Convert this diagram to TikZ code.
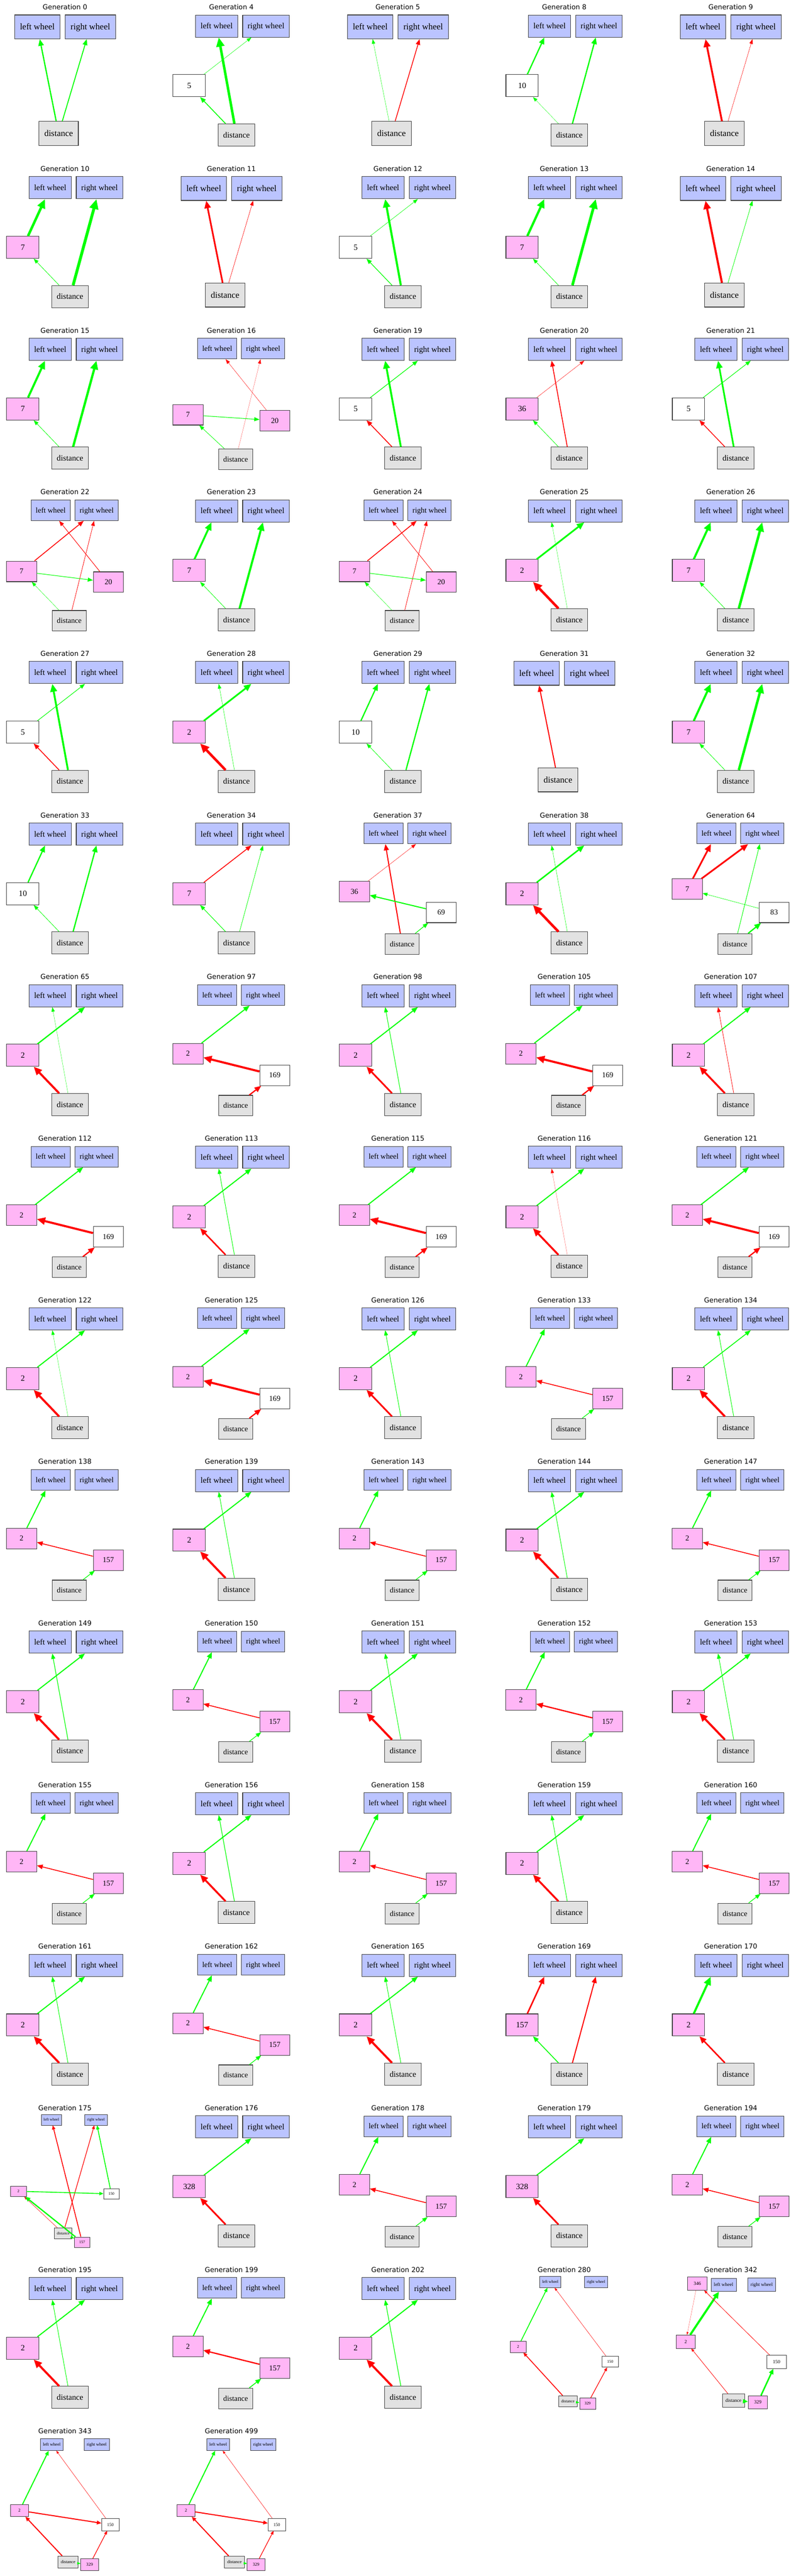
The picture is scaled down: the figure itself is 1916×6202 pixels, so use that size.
\documentclass[tikz,border=0pt]{standalone}
\usepackage{fontspec}
\setmainfont{Liberation Serif}
\newfontfamily\genfont{DejaVu Sans}
\usetikzlibrary{arrows.meta}

\definecolor{wheelblue}{RGB}{187,196,255}
\definecolor{hidpink}{RGB}{255,182,246}
\definecolor{sensorgray}{RGB}{226,226,226}
\definecolor{posgreen}{RGB}{0,255,0}
\definecolor{negred}{RGB}{255,0,0}

\tikzset{
  gentitle/.style={font=\genfont\fontsize{16.4pt}{19.7pt}\selectfont, inner sep=0pt},
  neuron/.style={rectangle, draw=black!75, line width=\nbw pt,
    minimum width=78pt*\nsc, minimum height=53.3pt*\nsc,
    inner xsep=12pt*\nsc, inner ysep=0pt,
    text height=\fth pt, text depth=\ftd pt,
    font=\fontsize{\fsz pt}{\fsz pt}\selectfont},
  wheel/.style={neuron, fill=wheelblue},
  sensor/.style={neuron, fill=sensorgray},
  hidden/.style={neuron, fill=#1},
  hidden/.default=white,
  link/.style={-{Triangle[length=10pt 2,width=7pt 2]}},
  excit/.style={link, draw=posgreen, line width=#1pt},
  inhib/.style={link, draw=negred, line width=#1pt}
}

% title of one panel; also sets the size of that panel's neurons
\newcommand\gentitle[4]{%
  \pgfmathsetmacro\nsc{#4}%
  \pgfmathsetmacro\fsz{19.5*#4}%
  \pgfmathsetmacro\nbw{1.4*#4}%
  \pgfmathsetmacro\fth{0.75*\fsz}%
  \pgfmathsetmacro\ftd{0.1*\fsz}%
  \coordinate (t#3) at ({156.4+400.7*#1},{17.4+389.07*#2});
  \node[gentitle] at (t#3) {Generation #3};
}

% col, row, generation: only the three fixed neurons
\newcommand\netA[3]{%
  \gentitle{#1}{#2}{#3}{1.08}
  \begin{scope}[shift={(t#3)}]
    \node[wheel] (lw#3) at (-66.5,47.3) {left wheel};
    \node[wheel] (rw#3) at (61.1,47.3) {right wheel};
    \node[sensor] (d#3) at (-15.2,303.9) {distance};
  \end{scope}
}

% col, row, generation, hidden label, hidden fill
\newcommand\netB[5]{%
  \gentitle{#1}{#2}{#3}{1}
  \begin{scope}[shift={(t#3)}]
    \node[wheel] (lw#3) at (-35.4,45.5) {left wheel};
    \node[wheel] (rw#3) at (83.3,45.5) {right wheel};
    \node[hidden=#5] (h#3) at (-101.5,189) {#4};
    \node[sensor] (d#3) at (12.2,307.6) {distance};
  \end{scope}
}

% col, row, generation, then label, fill and depth of both hidden neurons
\newcommand\netC[9]{%
  \gentitle{#1}{#2}{#3}{0.93}
  \begin{scope}[shift={(t#3)}]
    \node[wheel] (lw#3) at (-34.2,44) {left wheel};
    \node[wheel] (rw#3) at (76.4,44) {right wheel};
    \node[hidden=#5] (h#3) at (-104.5,#6) {#4};
    \node[hidden=#8] (hb#3) at (104.5,#9) {#7};
    \node[sensor] (d#3) at (10.3,310) {distance};
  \end{scope}
}

\begin{document}
\begin{tikzpicture}[x=1pt,y=-1pt]

  \path[use as bounding box, fill=white] (0,0) rectangle (1916,6202);

  % Row 1
  \netA{0}{0}{0}
  \draw[excit=3] (d0) -- (lw0);
  \draw[excit=2.2] (d0) -- (rw0);
  \netB{1}{0}{4}{5}{white}
  \draw[excit=6] (d4) -- (lw4);
  \draw[excit=0.7] (h4) -- (rw4);
  \draw[excit=2] (d4) -- (h4);
  \netA{2}{0}{5}
  \draw[excit=0.6] (d5) -- (lw5);
  \draw[inhib=1.8] (d5) -- (rw5);
  \netB{3}{0}{8}{10}{white}
  \draw[excit=3] (h8) -- (lw8);
  \draw[excit=0.5] (d8) -- (h8);
  \draw[excit=3] (d8) -- (rw8);
  \netA{4}{0}{9}
  \draw[inhib=4.5] (d9) -- (lw9);
  \draw[inhib=0.7] (d9) -- (rw9);

  % Row 2
  \netB{0}{1}{10}{7}{hidpink}
  \draw[excit=6] (h10) -- (lw10);
  \draw[excit=1] (d10) -- (h10);
  \draw[excit=7] (d10) -- (rw10);
  \netA{1}{1}{11}
  \draw[inhib=4] (d11) -- (lw11);
  \draw[inhib=0.8] (d11) -- (rw11);
  \netB{2}{1}{12}{5}{white}
  \draw[excit=5] (d12) -- (lw12);
  \draw[excit=0.8] (h12) -- (rw12);
  \draw[excit=1.5] (d12) -- (h12);
  \netB{3}{1}{13}{7}{hidpink}
  \draw[excit=5.5] (h13) -- (lw13);
  \draw[excit=1] (d13) -- (h13);
  \draw[excit=6.5] (d13) -- (rw13);
  \netA{4}{1}{14}
  \draw[inhib=5] (d14) -- (lw14);
  \draw[excit=1] (d14) -- (rw14);

  % Row 3
  \netB{0}{2}{15}{7}{hidpink}
  \draw[excit=5] (h15) -- (lw15);
  \draw[excit=1] (d15) -- (h15);
  \draw[excit=5.5] (d15) -- (rw15);
  \netC{1}{2}{16}{7}{hidpink}{203}{20}{hidpink}{217}
  \draw[inhib=0.6] (hb16) -- (lw16);
  \draw[inhib=0.3] (d16) -- (rw16);
  \draw[excit=1.3] (h16) -- (hb16);
  \draw[excit=1] (d16) -- (h16);
  \netB{2}{2}{19}{5}{white}
  \draw[excit=4.5] (d19) -- (lw19);
  \draw[excit=1.5] (h19) -- (rw19);
  \draw[inhib=2] (d19) -- (h19);
  \netB{3}{2}{20}{36}{hidpink}
  \draw[inhib=2] (d20) -- (lw20);
  \draw[inhib=0.6] (h20) -- (rw20);
  \draw[excit=1] (d20) -- (h20);
  \netB{4}{2}{21}{5}{white}
  \draw[excit=4] (d21) -- (lw21);
  \draw[excit=1.3] (h21) -- (rw21);
  \draw[inhib=1.8] (d21) -- (h21);

  % Row 4
  \netC{0}{3}{22}{7}{hidpink}{191}{20}{hidpink}{217}
  \draw[inhib=2] (h22) -- (rw22);
  \draw[inhib=1.2] (hb22) -- (lw22);
  \draw[inhib=1] (d22) -- (rw22);
  \draw[excit=1.3] (h22) -- (hb22);
  \draw[excit=0.6] (d22) -- (h22);
  \netB{1}{3}{23}{7}{hidpink}
  \draw[excit=4.5] (h23) -- (lw23);
  \draw[excit=1] (d23) -- (h23);
  \draw[excit=5] (d23) -- (rw23);
  \netC{2}{3}{24}{7}{hidpink}{191}{20}{hidpink}{217}
  \draw[inhib=2] (h24) -- (rw24);
  \draw[inhib=1] (hb24) -- (lw24);
  \draw[inhib=1] (d24) -- (rw24);
  \draw[excit=1.3] (h24) -- (hb24);
  \draw[excit=0.6] (d24) -- (h24);
  \netB{3}{3}{25}{2}{hidpink}
  \draw[excit=4] (h25) -- (rw25);
  \draw[inhib=6] (d25) -- (h25);
  \draw[excit=0.5] (d25) -- (lw25);
  \netB{4}{3}{26}{7}{hidpink}
  \draw[excit=5] (h26) -- (lw26);
  \draw[excit=1] (d26) -- (h26);
  \draw[excit=6] (d26) -- (rw26);

  % Row 5
  \netB{0}{4}{27}{5}{white}
  \draw[excit=4.5] (d27) -- (lw27);
  \draw[excit=1.3] (h27) -- (rw27);
  \draw[inhib=2] (d27) -- (h27);
  \netB{1}{4}{28}{2}{hidpink}
  \draw[excit=4] (h28) -- (rw28);
  \draw[inhib=6] (d28) -- (h28);
  \draw[excit=0.7] (d28) -- (lw28);
  \netB{2}{4}{29}{10}{white}
  \draw[excit=3] (h29) -- (lw29);
  \draw[excit=1] (d29) -- (h29);
  \draw[excit=3] (d29) -- (rw29);
  \netA{3}{4}{31}
  \draw[inhib=2.5] (d31) -- (lw31);
  \netB{4}{4}{32}{7}{hidpink}
  \draw[excit=5] (h32) -- (lw32);
  \draw[excit=1] (d32) -- (h32);
  \draw[excit=6] (d32) -- (rw32);

  % Row 6
  \netB{0}{5}{33}{10}{white}
  \draw[excit=3] (h33) -- (lw33);
  \draw[excit=1] (d33) -- (h33);
  \draw[excit=3] (d33) -- (rw33);
  \netB{1}{5}{34}{7}{hidpink}
  \draw[inhib=2] (h34) -- (rw34);
  \draw[excit=1.3] (d34) -- (h34);
  \draw[excit=1] (d34) -- (rw34);
  \netC{2}{5}{37}{36}{hidpink}{184}{69}{white}{234}
  \draw[inhib=2.5] (d37) -- (lw37);
  \draw[inhib=0.6] (h37) -- (rw37);
  \draw[excit=2.5] (hb37) -- (h37);
  \draw[excit=1.5] (d37) -- (hb37);
  \netB{3}{5}{38}{2}{hidpink}
  \draw[excit=3.5] (h38) -- (rw38);
  \draw[inhib=6] (d38) -- (h38);
  \draw[excit=0.7] (d38) -- (lw38);
  \netC{4}{5}{64}{7}{hidpink}{178}{83}{white}{234}
  \draw[inhib=4] (h64) -- (lw64);
  \draw[inhib=4] (h64) -- (rw64);
  \draw[excit=0.8] (hb64) -- (h64);
  \draw[excit=1.2] (d64) -- (rw64);
  \draw[excit=3] (d64) -- (hb64);

  % Row 7
  \netB{0}{6}{65}{2}{hidpink}
  \draw[excit=3] (h65) -- (rw65);
  \draw[inhib=5] (d65) -- (h65);
  \draw[excit=0.5] (d65) -- (lw65);
  \netC{1}{6}{97}{2}{hidpink}{185}{169}{white}{237}
  \draw[excit=2.5] (h97) -- (rw97);
  \draw[inhib=5] (hb97) -- (h97);
  \draw[inhib=3] (d97) -- (hb97);
  \netB{2}{6}{98}{2}{hidpink}
  \draw[excit=2.5] (h98) -- (rw98);
  \draw[inhib=4] (d98) -- (h98);
  \draw[excit=1.3] (d98) -- (lw98);
  \netC{3}{6}{105}{2}{hidpink}{185}{169}{white}{237}
  \draw[excit=2.5] (h105) -- (rw105);
  \draw[inhib=5] (hb105) -- (h105);
  \draw[inhib=3] (d105) -- (hb105);
  \netB{4}{6}{107}{2}{hidpink}
  \draw[excit=2.5] (h107) -- (rw107);
  \draw[inhib=4.5] (d107) -- (h107);
  \draw[inhib=1] (d107) -- (lw107);

  % Row 8
  \netC{0}{7}{112}{2}{hidpink}{185}{169}{white}{237}
  \draw[excit=2.5] (h112) -- (rw112);
  \draw[inhib=5] (hb112) -- (h112);
  \draw[inhib=3] (d112) -- (hb112);
  \netB{1}{7}{113}{2}{hidpink}
  \draw[excit=2.5] (h113) -- (rw113);
  \draw[inhib=3.5] (d113) -- (h113);
  \draw[excit=1.2] (d113) -- (lw113);
  \netC{2}{7}{115}{2}{hidpink}{185}{169}{white}{237}
  \draw[excit=2.5] (h115) -- (rw115);
  \draw[inhib=5] (hb115) -- (h115);
  \draw[inhib=3] (d115) -- (hb115);
  \netB{3}{7}{116}{2}{hidpink}
  \draw[excit=2.5] (h116) -- (rw116);
  \draw[inhib=4.5] (d116) -- (h116);
  \draw[inhib=0.3] (d116) -- (lw116);
  \netC{4}{7}{121}{2}{hidpink}{185}{169}{white}{237}
  \draw[excit=2.5] (h121) -- (rw121);
  \draw[inhib=5] (hb121) -- (h121);
  \draw[inhib=3] (d121) -- (hb121);

  % Row 9
  \netB{0}{8}{122}{2}{hidpink}
  \draw[excit=2.5] (h122) -- (rw122);
  \draw[inhib=5] (d122) -- (h122);
  \draw[excit=0.5] (d122) -- (lw122);
  \netC{1}{8}{125}{2}{hidpink}{185}{169}{white}{237}
  \draw[excit=2.5] (h125) -- (rw125);
  \draw[inhib=5] (hb125) -- (h125);
  \draw[inhib=3] (d125) -- (hb125);
  \netB{2}{8}{126}{2}{hidpink}
  \draw[excit=2.5] (h126) -- (rw126);
  \draw[inhib=4] (d126) -- (h126);
  \draw[excit=1.2] (d126) -- (lw126);
  \netC{3}{8}{133}{2}{hidpink}{185}{157}{hidpink}{237}
  \draw[excit=2.5] (h133) -- (lw133);
  \draw[inhib=2] (hb133) -- (h133);
  \draw[excit=1.5] (d133) -- (hb133);
  \netB{4}{8}{134}{2}{hidpink}
  \draw[excit=2] (h134) -- (rw134);
  \draw[inhib=5] (d134) -- (h134);
  \draw[excit=1.2] (d134) -- (lw134);

  % Row 10
  \netC{0}{9}{138}{2}{hidpink}{185}{157}{hidpink}{237}
  \draw[excit=2.5] (h138) -- (lw138);
  \draw[inhib=2] (hb138) -- (h138);
  \draw[excit=1.5] (d138) -- (hb138);
  \netB{1}{9}{139}{2}{hidpink}
  \draw[excit=2.5] (h139) -- (rw139);
  \draw[inhib=5] (d139) -- (h139);
  \draw[excit=1.2] (d139) -- (lw139);
  \netC{2}{9}{143}{2}{hidpink}{185}{157}{hidpink}{237}
  \draw[excit=2.5] (h143) -- (lw143);
  \draw[inhib=2] (hb143) -- (h143);
  \draw[excit=1.5] (d143) -- (hb143);
  \netB{3}{9}{144}{2}{hidpink}
  \draw[excit=2.5] (h144) -- (rw144);
  \draw[inhib=5] (d144) -- (h144);
  \draw[excit=1.2] (d144) -- (lw144);
  \netC{4}{9}{147}{2}{hidpink}{185}{157}{hidpink}{237}
  \draw[excit=2.5] (h147) -- (lw147);
  \draw[inhib=2] (hb147) -- (h147);
  \draw[excit=1.5] (d147) -- (hb147);

  % Row 11
  \netB{0}{10}{149}{2}{hidpink}
  \draw[excit=2.5] (h149) -- (rw149);
  \draw[inhib=5] (d149) -- (h149);
  \draw[excit=1.5] (d149) -- (lw149);
  \netC{1}{10}{150}{2}{hidpink}{185}{157}{hidpink}{237}
  \draw[excit=2.5] (h150) -- (lw150);
  \draw[inhib=2] (hb150) -- (h150);
  \draw[excit=1.5] (d150) -- (hb150);
  \netB{2}{10}{151}{2}{hidpink}
  \draw[excit=2.5] (h151) -- (rw151);
  \draw[inhib=5] (d151) -- (h151);
  \draw[excit=1.2] (d151) -- (lw151);
  \netC{3}{10}{152}{2}{hidpink}{185}{157}{hidpink}{237}
  \draw[excit=2.5] (h152) -- (lw152);
  \draw[inhib=3] (hb152) -- (h152);
  \draw[excit=1.5] (d152) -- (hb152);
  \netB{4}{10}{153}{2}{hidpink}
  \draw[excit=2.5] (h153) -- (rw153);
  \draw[inhib=5] (d153) -- (h153);
  \draw[excit=1.2] (d153) -- (lw153);

  % Row 12
  \netC{0}{11}{155}{2}{hidpink}{185}{157}{hidpink}{237}
  \draw[excit=2.5] (h155) -- (lw155);
  \draw[inhib=2] (hb155) -- (h155);
  \draw[excit=1.5] (d155) -- (hb155);
  \netB{1}{11}{156}{2}{hidpink}
  \draw[excit=2.5] (h156) -- (rw156);
  \draw[inhib=4.5] (d156) -- (h156);
  \draw[excit=1.5] (d156) -- (lw156);
  \netC{2}{11}{158}{2}{hidpink}{185}{157}{hidpink}{237}
  \draw[excit=2.5] (h158) -- (lw158);
  \draw[inhib=2] (hb158) -- (h158);
  \draw[excit=1.5] (d158) -- (hb158);
  \netB{3}{11}{159}{2}{hidpink}
  \draw[excit=2.5] (h159) -- (rw159);
  \draw[inhib=4.5] (d159) -- (h159);
  \draw[excit=1.2] (d159) -- (lw159);
  \netC{4}{11}{160}{2}{hidpink}{185}{157}{hidpink}{237}
  \draw[excit=2.5] (h160) -- (lw160);
  \draw[inhib=2] (hb160) -- (h160);
  \draw[excit=1.5] (d160) -- (hb160);

  % Row 13
  \netB{0}{12}{161}{2}{hidpink}
  \draw[excit=2.5] (h161) -- (rw161);
  \draw[inhib=5] (d161) -- (h161);
  \draw[excit=1.2] (d161) -- (lw161);
  \netC{1}{12}{162}{2}{hidpink}{185}{157}{hidpink}{237}
  \draw[excit=2.5] (h162) -- (lw162);
  \draw[inhib=2] (hb162) -- (h162);
  \draw[excit=1.5] (d162) -- (hb162);
  \netB{2}{12}{165}{2}{hidpink}
  \draw[excit=2.5] (h165) -- (rw165);
  \draw[inhib=5] (d165) -- (h165);
  \draw[excit=1.2] (d165) -- (lw165);
  \netB{3}{12}{169}{157}{hidpink}
  \draw[inhib=3.5] (h169) -- (lw169);
  \draw[excit=2] (d169) -- (h169);
  \draw[inhib=2.5] (d169) -- (rw169);
  \netB{4}{12}{170}{2}{hidpink}
  \draw[excit=5] (h170) -- (lw170);
  \draw[inhib=3.5] (d170) -- (h170);

  % Row 14
  \gentitle{0}{13}{175}{0.48}
  \begin{scope}[shift={(t175)}, link/.style={-{Triangle[length=6pt 2,width=4pt 2]}}]
    \node[wheel] (lw175) at (-32.8,28.3) {left wheel};
    \node[wheel] (rw175) at (74.5,28.3) {right wheel};
    \node[hidden=hidpink] (h175) at (-112,200.3) {2};
    \node[hidden] (hb175) at (111.8,206.6) {150};
    \node[sensor] (d175) at (-4.3,301.3) {distance};
    \node[hidden=hidpink] (hc175) at (41.5,323) {157};
    \draw[inhib=2] (hc175) -- (lw175);
    \draw[inhib=1.5] (d175) -- (rw175);
    \draw[excit=2] (hb175) -- (rw175);
    \draw[excit=2] (h175) -- (hb175);
    \draw[inhib=0.7] (d175) -- (h175);
    \draw[excit=3] (hc175) -- (h175);
    \draw[excit=1.5] (d175) -- (hc175);
  \end{scope}
  \netB{1}{13}{176}{328}{hidpink}
  \draw[excit=2.5] (h176) -- (rw176);
  \draw[inhib=4] (d176) -- (h176);
  \netC{2}{13}{178}{2}{hidpink}{185}{157}{hidpink}{237}
  \draw[excit=2.5] (h178) -- (lw178);
  \draw[inhib=2] (hb178) -- (h178);
  \draw[excit=1.5] (d178) -- (hb178);
  \netB{3}{13}{179}{328}{hidpink}
  \draw[excit=2.5] (h179) -- (rw179);
  \draw[inhib=4] (d179) -- (h179);
  \netC{4}{13}{194}{2}{hidpink}{185}{157}{hidpink}{237}
  \draw[excit=2.5] (h194) -- (lw194);
  \draw[inhib=2] (hb194) -- (h194);
  \draw[excit=1.5] (d194) -- (hb194);

  % Row 15
  \netB{0}{14}{195}{2}{hidpink}
  \draw[excit=1.2] (d195) -- (lw195);
  \draw[excit=2.5] (h195) -- (rw195);
  \draw[inhib=5] (d195) -- (h195);
  \netC{1}{14}{199}{2}{hidpink}{185}{157}{hidpink}{237}
  \draw[excit=2.5] (h199) -- (lw199);
  \draw[inhib=3] (hb199) -- (h199);
  \draw[excit=2] (d199) -- (hb199);
  \netB{2}{14}{202}{2}{hidpink}
  \draw[excit=2.5] (h202) -- (rw202);
  \draw[inhib=5] (d202) -- (h202);
  \draw[excit=1.5] (d202) -- (lw202);
  \gentitle{3}{14}{280}{0.5}
  \begin{scope}[shift={(t280)}, link/.style={-{Triangle[length=6pt 2,width=4pt 2]}}]
    \node[wheel] (lw280) at (-33.6,29.8) {left wheel};
    \node[wheel] (rw280) at (76.4,29.8) {right wheel};
    \node[hidden=hidpink] (h280) at (-111.2,185.7) {2};
    \node[hidden] (hb280) at (110.6,221.5) {150};
    \node[sensor] (d280) at (8.6,316.7) {distance};
    \node[hidden=hidpink] (hc280) at (56.2,322.4) {329};
    \draw[excit=2] (h280) -- (lw280);
    \draw[inhib=0.7] (hb280) -- (lw280);
    \draw[inhib=2] (d280) -- (h280);
    \draw[inhib=1.5] (hc280) -- (hb280);
    \draw[excit=1] (d280) -- (hc280);
  \end{scope}
  \gentitle{4}{14}{342}{0.6}
  \begin{scope}[shift={(t342)}, link/.style={-{Triangle[length=6pt 2,width=4pt 2]}}]
    \node[hidden=hidpink] (hd342) at (-80.4,33.5) {346};
    \node[wheel] (lw342) at (-17.2,36.5) {left wheel};
    \node[wheel] (rw342) at (74.5,36) {right wheel};
    \node[hidden=hidpink] (h342) at (-108.4,173.2) {2};
    \node[hidden] (hb342) at (110.3,222) {150};
    \node[sensor] (d342) at (6.6,315) {distance};
    \node[hidden=hidpink] (hc342) at (65.3,319.4) {329};
    \draw[inhib=0.3] (hd342) -- (h342);
    \draw[excit=5] (h342) -- (lw342);
    \draw[inhib=1] (hb342) -- (hd342);
    \draw[inhib=1] (d342) -- (h342);
    \draw[excit=3.5] (hc342) -- (hb342);
    \draw[excit=3] (d342) -- (hc342);
  \end{scope}

  % Row 16
  \gentitle{0}{15}{343}{0.545}
  \begin{scope}[shift={(t343)}, link/.style={-{Triangle[length=6pt 2,width=4pt 2]}}]
    \node[wheel] (lw343) at (-31.8,31.9) {left wheel};
    \node[wheel] (rw343) at (76.4,31.9) {right wheel};
    \node[hidden=hidpink] (h343) at (-109.4,190.7) {2};
    \node[hidden] (hb343) at (109.4,224.7) {150};
    \node[sensor] (d343) at (7.4,315) {distance};
    \node[hidden=hidpink] (hc343) at (59.3,321.2) {329};
    \draw[excit=2.5] (h343) -- (lw343);
    \draw[inhib=0.7] (hb343) -- (lw343);
    \draw[inhib=2.5] (h343) -- (hb343);
    \draw[inhib=2.5] (d343) -- (h343);
    \draw[inhib=1.5] (hc343) -- (hb343);
    \draw[excit=1] (d343) -- (hc343);
  \end{scope}
  \gentitle{1}{15}{499}{0.545}
  \begin{scope}[shift={(t499)}, link/.style={-{Triangle[length=6pt 2,width=4pt 2]}}]
    \node[wheel] (lw499) at (-31.8,31.9) {left wheel};
    \node[wheel] (rw499) at (76.4,31.9) {right wheel};
    \node[hidden=hidpink] (h499) at (-109.4,190.7) {2};
    \node[hidden] (hb499) at (109.4,224.7) {150};
    \node[sensor] (d499) at (7.4,315) {distance};
    \node[hidden=hidpink] (hc499) at (59.3,321.2) {329};
    \draw[excit=2.5] (h499) -- (lw499);
    \draw[inhib=0.7] (hb499) -- (lw499);
    \draw[inhib=2.5] (h499) -- (hb499);
    \draw[inhib=2.5] (d499) -- (h499);
    \draw[inhib=1.5] (hc499) -- (hb499);
    \draw[excit=1] (d499) -- (hc499);
  \end{scope}

\end{tikzpicture}
\end{document}
